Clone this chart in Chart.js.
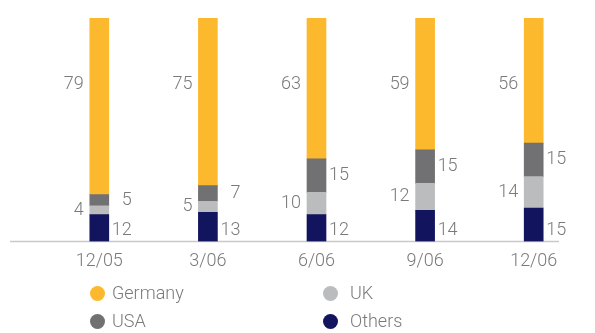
<!DOCTYPE html>
<html>
<head>
<meta charset="utf-8">
<script src="https://cdn.jsdelivr.net/npm/chart.js@4"></script>
<style>
  html, body { margin: 0; padding: 0; background: #fff; }
  #wrap { position: relative; width: 595px; height: 333px; overflow: hidden; }
  #wrap canvas { position: absolute; left: 0; top: 0; }
  .leg { position: absolute; font: 300 18px Roboto, "Liberation Sans", sans-serif; color: #7a7a7a; line-height: 20px; white-space: nowrap; }
  .dot { position: absolute; width: 15px; height: 15px; border-radius: 50%; }
</style>
</head>
<body>
<div id="wrap">
  <canvas id="shareChart" width="595" height="333"></canvas>
  <div id="legend"></div>
</div>
<script>
const periods = ["12/05", "3/06", "6/06", "9/06", "12/06"];
const others = [12, 13, 12, 14, 15];
const uk = [4, 5, 10, 12, 14];
const usa = [5, 7, 15, 15, 15];
const germany = [79, 75, 63, 59, 56];

const colors = {
  Germany: "#fdb92d",
  USA: "#717072",
  UK: "#bbbcbe",
  Others: "#12155e"
};
const textGray = "#7a7a7a";
const labelFont = '300 18px Roboto, "Liberation Sans", sans-serif';

// value labels: which side of the bar and where vertically
const labelSide = { Others: "right", UK: "left", USA: "right", Germany: "left" };

const barLabels = {
  id: "barLabels",
  beforeDatasetsDraw(chart) {
    const ctx = chart.ctx;
    const y0 = chart.scales.y.getPixelForValue(0);
    ctx.save();
    ctx.strokeStyle = "#c9c9c9";
    ctx.lineWidth = 1.5;
    ctx.beginPath();
    ctx.moveTo(10, y0);
    ctx.lineTo(559, y0);
    ctx.stroke();
    ctx.restore();
  },
  afterDatasetsDraw(chart) {
    const ctx = chart.ctx;
    ctx.save();
    ctx.font = labelFont;
    ctx.fillStyle = textGray;
    ctx.textBaseline = "middle";
    ctx.textAlign = "right";
    chart.data.datasets.forEach((ds, i) => {
      const meta = chart.getDatasetMeta(i);
      meta.data.forEach((bar, j) => {
        const half = bar.width / 2;
        let x, y;
        if (labelSide[ds.label] === "left") x = bar.x - half - 6;
        else x = bar.x + half + 23;
        if (ds.label === "Germany") y = chart.chartArea.top + 66;
        else if (ds.label === "Others") y = bar.base - 11;
        else y = (bar.y + bar.base) / 2;
        ctx.fillText(String(ds.data[j]), x, y);
      });
    });
    ctx.restore();
  }
};

const chart = new Chart(document.getElementById("shareChart"), {
  type: "bar",
  data: {
    labels: periods,
    datasets: [
      { label: "Others", data: others, backgroundColor: colors.Others },
      { label: "UK", data: uk, backgroundColor: colors.UK },
      { label: "USA", data: usa, backgroundColor: colors.USA },
      { label: "Germany", data: germany, backgroundColor: colors.Germany }
    ]
  },
  options: {
    responsive: false,
    animation: false,
    layout: { padding: { left: 45, right: 7, top: 18, bottom: 61.5 } },
    datasets: { bar: { barThickness: 19, borderWidth: 0 } },
    plugins: { legend: { display: false }, tooltip: { enabled: false } },
    scales: {
      x: {
        stacked: true,
        grid: { display: false, drawTicks: false },
        border: { display: false },
        afterFit(scale) { scale.height = 30; },
        ticks: { color: textGray, padding: 9, font: { family: 'Roboto, "Liberation Sans", sans-serif', size: 18, weight: 300 } }
      },
      y: { stacked: true, display: false, min: 0, max: 100 }
    }
  },
  plugins: [barLabels]
});

// two-column legend under the axis
const legendItems = ["Germany", "UK", "USA", "Others"];
const legendCols = [{ dot: 90, text: 112 }, { dot: 323, text: 350 }];
const legendRows = [293, 321];
const legend = document.getElementById("legend");
legendItems.forEach((name, k) => {
  const col = legendCols[k % 2];
  const cy = legendRows[Math.floor(k / 2)];
  const dot = document.createElement("div");
  dot.className = "dot";
  dot.style.left = col.dot + "px";
  dot.style.top = (cy - 7.5) + "px";
  dot.style.background = colors[name];
  const txt = document.createElement("div");
  txt.className = "leg";
  txt.style.left = col.text + "px";
  txt.style.top = (cy - 10) + "px";
  txt.textContent = name;
  legend.appendChild(dot);
  legend.appendChild(txt);
});
</script>
</body>
</html>
